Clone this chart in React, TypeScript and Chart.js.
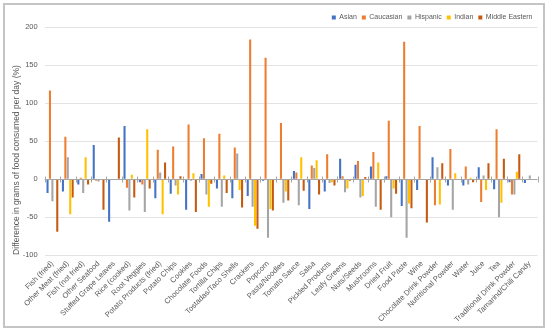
import { useEffect, useRef } from "react";
import { Chart, registerables } from "chart.js";

Chart.register(...registerables);

const categories = [
  "Fish (fried)", "Other Meat (fried)", "Fish (not fried)", "Other Seafood",
  "Stuffed Grape Leaves", "Rice (cooked)", "Root Veggies", "Potato Products (fried)",
  "Potato Chips", "Cookies", "Chocolate Foods", "Tortilla Chips",
  "Tostadas/Taco Shells", "Crackers", "Popcorn", "Pasta/Noodles",
  "Tomato Sauce", "Salsa", "Pickled Products", "Leafy Greens",
  "Nuts/Seeds", "Mushrooms", "Dried Fruit", "Food Paste",
  "Wine", "Chocolate Drink Powder", "Nutritional Powder", "Water",
  "Juice", "Tea", "Traditional Drink Powder", "Tamarind/Chili Candy",
];

const asian = [-18, -16, -7, 45, -56, 70, -4, -25, -19, -40, 7, -12, -25, -22, -2, -1, 11, -39, -16, 27, 19, 17, 4, -35, -14, 29, -8, -8, 16, -13, -4, -5];
const caucasian = [117, 56, 2, -2, 0, -11, -7, 39, 43, 72, 54, 60, 42, 184, 160, 74, 9, 18, 33, 4, 24, 36, 77, 181, 70, -34, 40, 17, -30, 66, -20, 0];
const hispanic = [-29, 29, -18, -3, 0, -41, -43, 9, -8, -2, -20, -36, 34, -36, -77, -31, -34, 15, -5, -17, -24, -36, -50, -77, -1, 16, -40, -7, 5, -50, -20, 5];
const indian = [0, -46, 29, 0, 0, 6, 66, -46, -20, 8, -36, 5, -14, -61, -39, -16, 29, 25, -4, -12, -22, 22, -12, -32, 0, -33, 8, 2, -14, -31, 10, 0];
const middleEastern = [-69, -24, -7, -40, 55, -24, -12, 22, 4, -43, -6, -18, -37, -65, -41, -28, -15, -20, -8, -2, 3, -40, -19, -38, -57, 21, 0, -4, 21, 27, 33, 0];

const seriesNames = ["Asian", "Caucasian", "Hispanic", "Indian", "Middle Eastern"];
const seriesColors = ["#4472C4", "#ED7D31", "#A5A5A5", "#FFC000", "#C55A11"];
const yMin = -100;
const yMax = 200;
const yStep = 50;
const yTitle = "Difference in grams of food consumed per day (%)";

const FONT = "'Liberation Sans', Arial, sans-serif";
const TEXT = "#595959";

export default function App() {
  const ref = useRef<HTMLCanvasElement>(null);

  useEffect(() => {
    if (!ref.current) return;
    const values = [asian, caucasian, hispanic, indian, middleEastern];

    const axisPlugin = {
      id: "zeroAxis",
      afterDatasetsDraw(chart: any) {
        const { ctx, chartArea, scales } = chart;
        const x = scales.x;
        const y = scales.y;
        const y0 = Math.round(y.getPixelForValue(0)) + 0.5;
        ctx.save();
        ctx.strokeStyle = "#A6A6A6";
        ctx.lineWidth = 1;
        ctx.beginPath();
        ctx.moveTo(chartArea.left, y0);
        ctx.lineTo(chartArea.right, y0);
        for (let i = 0; i <= categories.length; i++) {
          const px = Math.round(x.getPixelForValue(i - 0.5)) + 0.5;
          ctx.moveTo(px, y0 - 3);
          ctx.lineTo(px, y0 + 3);
        }
        ctx.stroke();
        ctx.restore();
      },
      afterDraw(chart: any) {
        const { ctx } = chart;
        ctx.save();
        ctx.translate(16.5, 160);
        ctx.rotate(-Math.PI / 2);
        ctx.font = `8.5px ${FONT}`;
        ctx.fillStyle = TEXT;
        ctx.textAlign = "center";
        ctx.textBaseline = "middle";
        ctx.fillText(yTitle, 0, 0);
        ctx.restore();
      },
    };

    const chart = new Chart(ref.current, {
      type: "bar",
      data: {
        labels: categories,
        datasets: seriesNames.map((name, i) => ({
          label: name,
          data: values[i],
          backgroundColor: seriesColors[i],
          borderWidth: 0,
          barPercentage: 0.85,
          categoryPercentage: 0.79,
        })),
      },
      options: {
        animation: false,
        responsive: false,
        devicePixelRatio: 1,
        layout: { padding: { top: 9, right: 12.5, left: 0, bottom: 0 } },
        plugins: {
          legend: {
            position: "top",
            align: "end",
            maxHeight: 18.3,
            labels: {
              boxWidth: 4,
              boxHeight: 4,
              padding: 5,
              color: TEXT,
              font: { size: 7, family: FONT },
            },
          },
          tooltip: { enabled: false },
        },
        scales: {
          x: {
            grid: { display: false, drawTicks: false },
            border: { display: false },
            ticks: {
              autoSkip: false,
              minRotation: 45,
              maxRotation: 45,
              padding: 4,
              color: TEXT,
              font: { size: 7.6, family: FONT },
            },
            afterFit: (s: any) => {
              s.height = 76.7;
            },
          },
          y: {
            min: yMin,
            max: yMax,
            ticks: {
              stepSize: yStep,
              padding: 7,
              color: TEXT,
              font: { size: 7.5, family: FONT },
            },
            grid: {
              drawTicks: false,
              color: (c: any) => (c.tick && c.tick.value === 0 ? "rgba(0,0,0,0)" : "#E3E3E3"),
            },
            border: { display: false },
            afterFit: (s: any) => {
              s.width = 44.7;
            },
          },
        },
      },
      plugins: [axisPlugin],
    });

    return () => chart.destroy();
  }, []);

  return (
    <div style={{ position: "fixed", left: 0, top: 0, width: 550, height: 332, background: "#fff" }}>
      <canvas ref={ref} width={550} height={332} style={{ position: "absolute", left: 0, top: 0 }} />
      <div
        style={{
          position: "absolute",
          left: 3,
          top: 3,
          width: 542,
          height: 325,
          boxSizing: "border-box",
          border: "2px solid #C4C4C4",
          pointerEvents: "none",
        }}
      />
    </div>
  );
}
